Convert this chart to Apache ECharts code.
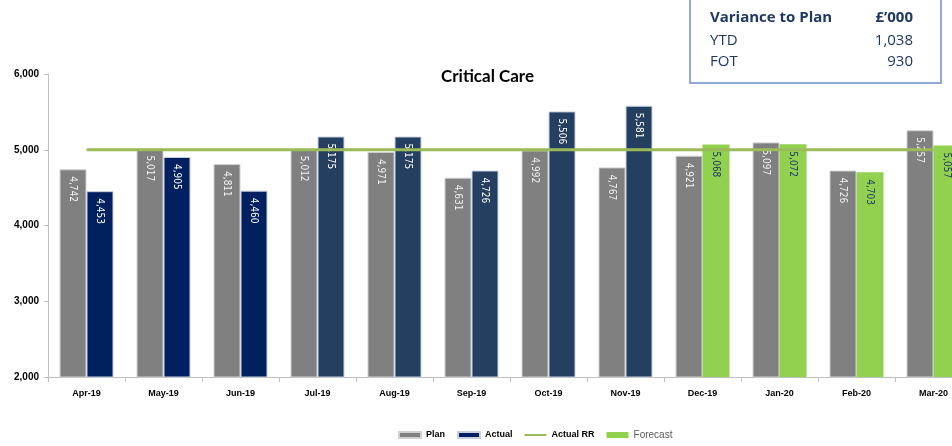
<!DOCTYPE html>
<html>
<head>
<meta charset="utf-8">
<script src="https://cdn.jsdelivr.net/npm/echarts@6/dist/echarts.min.js"></script>
<style>
  html, body { margin: 0; padding: 0; background: #ffffff; }
  #chart { width: 952px; height: 446px; }
</style>
</head>
<body>
<div id="chart"></div>
<script>
// Monthly categories
var months = ['Apr-19', 'May-19', 'Jun-19', 'Jul-19', 'Aug-19', 'Sep-19',
              'Oct-19', 'Nov-19', 'Dec-19', 'Jan-20', 'Feb-20', 'Mar-20'];
// Plan by month (£'000)
var plan = [4742, 5017, 4811, 5012, 4971, 4631, 4992, 4767, 4921, 5097, 4726, 5257];
// Actuals to date (Apr–Nov)
var actual = [4453, 4905, 4460, 5175, 5175, 4726, 5506, 5581, null, null, null, null];
// Forecast for remaining months (Dec–Mar)
var forecast = [null, null, null, null, null, null, null, null, 5068, 5072, 4703, 5057];
// Actual run rate
var actualRR = [5000, 5000, 5000, 5000, 5000, 5000, 5000, 5000, 5000, 5000, 5000, 5000];
// Y axis ticks
var yTicks = [2000, 3000, 4000, 5000, 6000];
// Variance box contents
var varianceRows = [['YTD', '1,038'], ['FOT', '930']];

var fmt = function (v) { return v.toLocaleString('en-GB'); };

var labelBase = {
  show: true,
  position: 'insideTop',
  rotate: -90,
  align: 'left',
  verticalAlign: 'middle',
  distance: 7,
  fontSize: 10,
  fontFamily: 'DejaVu Sans Condensed, Liberation Sans Narrow, sans-serif',
  formatter: function (p) { return p.value == null ? '' : fmt(p.value); }
};

// First quarter actuals are drawn in a deeper navy
var actualData = actual.map(function (v, i) {
  return { value: v, itemStyle: { color: i < 3 ? '#002060' : '#243f60' } };
});

var chart = echarts.init(document.getElementById('chart'), null, { renderer: 'canvas' });

var legendText = { fontSize: 9, fontWeight: 'bold', color: '#000000', fontFamily: 'Liberation Sans Narrow, Arial Narrow, sans-serif' };
// thin horizontal stroke icon for the run-rate line (corner moves keep the box size)
var lineIcon = 'path://M0,0 M22,6 M0,2 L22,2 L22,4 L0,4 Z';

chart.setOption({
  animation: false,
  backgroundColor: '#ffffff',
  title: {
    text: 'Critical Care',
    left: 436,
    top: 63,
    textStyle: { fontSize: 17, fontWeight: 'bold', color: '#000000', fontFamily: 'Lato, sans-serif' }
  },
  legend: {
    left: 393,
    top: 425,
    itemGap: 12,
    itemWidth: 22,
    itemHeight: 6,
    textStyle: legendText,
    data: [
      { name: 'Plan', icon: 'rect' },
      { name: 'Actual', icon: 'rect' },
      { name: 'Actual RR', icon: lineIcon },
      { name: 'Forecast', icon: 'rect', textStyle: { fontSize: 10, fontWeight: 'normal', color: '#595959', fontFamily: 'Liberation Sans, sans-serif' } }
    ]
  },
  grid: { left: 48, top: 74, width: 924, bottom: 69, containLabel: false, outerBoundsMode: 'none' },
  xAxis: {
    type: 'category',
    data: months,
    axisLine: { lineStyle: { color: '#bfbfbf' } },
    axisTick: { show: true, length: 5, lineStyle: { color: '#bfbfbf' } },
    axisLabel: { margin: 12, fontSize: 9, fontWeight: 'bold', color: '#000000', fontFamily: 'Liberation Sans Narrow, Arial Narrow, sans-serif' }
  },
  yAxis: {
    type: 'value',
    min: yTicks[0],
    max: yTicks[yTicks.length - 1],
    interval: 1000,
    axisLine: { show: true, lineStyle: { color: '#bfbfbf' } },
    axisTick: { show: true, length: 4, lineStyle: { color: '#bfbfbf' } },
    splitLine: { show: false },
    axisLabel: { margin: 9, fontSize: 10, fontWeight: 'bold', color: '#000000', fontFamily: 'Liberation Sans Narrow, Arial Narrow, sans-serif', formatter: fmt }
  },
  series: [
    {
      name: 'Plan',
      type: 'bar',
      data: plan,
      barWidth: 27,
      barGap: '0%',
      itemStyle: { color: '#808080', borderColor: '#d0d0d0', borderWidth: 1 },
      label: Object.assign({}, labelBase, { color: '#f2f2f2' })
    },
    {
      name: 'Actual',
      type: 'bar',
      stack: 'act',
      data: actualData,
      barWidth: 27,
      itemStyle: { color: '#002060', borderColor: '#c9d1e0', borderWidth: 1 },
      label: Object.assign({}, labelBase, { color: '#ffffff' })
    },
    {
      name: 'Forecast',
      type: 'bar',
      stack: 'act',
      data: forecast,
      barWidth: 27,
      itemStyle: { color: '#92d050' },
      label: Object.assign({}, labelBase, { color: '#1f3864' })
    },
    {
      name: 'Actual RR',
      type: 'line',
      data: actualRR,
      symbol: 'none',
      z: 5,
      lineStyle: { color: '#9bbb59', width: 3 },
      itemStyle: { color: '#9bbb59' }
    }
  ],
  graphic: [
    {
      type: 'rect',
      shape: { x: 690, y: -5, width: 251, height: 88 },
      style: { fill: '#ffffff', stroke: '#6f8fd0', lineWidth: 1.5 },
      z: 10
    },
    {
      type: 'text', left: 710, top: 10, z: 11,
      style: { text: 'Variance to Plan', font: 'bold 15px "Open Sans", sans-serif', fill: '#1f3864' }
    },
    {
      type: 'text', right: 952 - 913, top: 10, z: 11,
      style: { text: '£\u2019000', font: 'bold 15px "Open Sans", sans-serif', fill: '#1f3864', textAlign: 'right' }
    }
  ].concat(varianceRows.reduce(function (acc, row, i) {
    acc.push({
      type: 'text', left: 710, top: 33 + i * 21, z: 11,
      style: { text: row[0], font: '15px "Open Sans", sans-serif', fill: '#1f3864' }
    });
    acc.push({
      type: 'text', right: 952 - 913, top: 33 + i * 21, z: 11,
      style: { text: row[1], font: '15px "Open Sans", sans-serif', fill: '#1f3864', textAlign: 'right' }
    });
    return acc;
  }, []))
});
</script>
</body>
</html>
